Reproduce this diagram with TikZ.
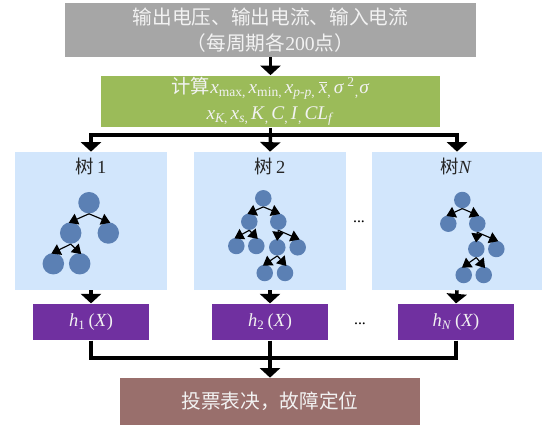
\documentclass[tikz,border=0pt]{standalone}
\usepackage{fontspec}
\usepackage{xcolor}
\usepackage{tikz}
\usetikzlibrary{arrows.meta}
\setmainfont{Liberation Serif}
\newfontfamily\cjk{Noto Sans CJK SC}
\definecolor{graybox}{HTML}{A6A6A6}
\definecolor{greenbox}{HTML}{9BBB59}
\definecolor{treebox}{HTML}{D2E6FC}
\definecolor{purplebox}{HTML}{7030A0}
\definecolor{brownbox}{HTML}{996F6C}
\definecolor{treenode}{HTML}{5B80B4}
\definecolor{pale}{HTML}{F2F2F2}
\newcommand{\vr}[1]{\textit{#1}}
\tikzset{
  box/.style={draw=none, inner sep=0pt, align=center, text=pale},
  inbox/.style={box, fill=graybox, minimum width=8.22cm, minimum height=1.08cm, font=\fontsize{11.2}{14.7}\selectfont},
  calcbox/.style={box, fill=greenbox, minimum width=6.78cm, minimum height=1.04cm, font=\fontsize{11}{15}\selectfont},
  treearea/.style={box, fill=treebox, minimum height=2.76cm},
  hbox/.style={box, fill=purplebox, minimum width=2.31cm, minimum height=0.73cm, font=\fontsize{10.5}{12}\selectfont},
  votebox/.style={box, fill=brownbox, minimum width=6cm, minimum height=0.94cm, font=\fontsize{11.2}{14}\selectfont},
  flow/.style={draw=black, line width=2pt, -{Triangle[length=0.19cm, width=0.4cm]}},
  bus/.style={draw=black, line width=2pt},
  bignode/.style={circle, fill=treenode, inner sep=0pt, minimum size=0.43cm},
  smallnode/.style={circle, fill=treenode, inner sep=0pt, minimum size=0.33cm},
  edge/.style={draw=black, line width=0.65pt, shorten >=-1.2pt, -{Triangle[length=0.18cm, width=0.23cm]}},
  treelbl/.style={text=black!85, font=\fontsize{10.5}{12}\selectfont},
  dots/.style={text=black, font=\fontsize{9}{11}\selectfont}
}

\begin{document}
\begin{tikzpicture}[x=0.02cm, y=-0.02cm]
  \useasboundingbox (0,0) rectangle (543,425);

  \node[inbox] (input) at (270.5,30) {{\cjk 输出电压、输出电流、输入电流}\\{\cjk （每周期各}200{\cjk 点）}};
  \node[calcbox] (calc) at (270.5,101.5) {{\cjk 计算}\vr{x}\textsubscript{max,\,}\vr{x}\textsubscript{min,\,}\vr{x}\textsubscript{\vr{p-p},}\,$\overline{\mbox{\vr{x}}}$\textsubscript{,\,}\vr{σ}\,\textsuperscript{2}\textsubscript{,}\vr{σ}\\\vr{x}\textsubscript{\vr{K},\,}\vr{x}\textsubscript{\vr{s},\,}\vr{K}\textsubscript{,\,}\vr{C}\textsubscript{,\,}\vr{I}\textsubscript{,\,}\vr{CL}\textsubscript{\vr{f}}};

  \node[treearea, minimum width=3.04cm] (tree1) at (91,221) {};
  \node[treearea, minimum width=3.04cm] (tree2) at (270,221) {};
  \node[treearea, minimum width=3.4cm] (treeN) at (457,221) {};

  \node[treelbl] (lbl1) at (91,166) {{\cjk 树}\,1};
  \node[treelbl] (lbl2) at (270,166) {{\cjk 树}\,2};
  \node[treelbl] (lblN) at (456,166) {{\cjk 树}\vr{N}};

  \node[bignode] (a) at (89,202.7) {};
  \node[bignode] (al) at (70.7,233) {};
  \node[bignode] (ar) at (108.3,233) {};
  \node[bignode] (all) at (53.3,263.7) {};
  \node[bignode] (alr) at (79.7,263.7) {};

  \node[smallnode] (b) at (263.3,198.3) {};
  \node[smallnode] (bl) at (249.3,221.7) {};
  \node[smallnode] (br) at (278.3,221.7) {};
  \node[smallnode] (bll) at (236.3,246) {};
  \node[smallnode] (blr) at (256.3,246) {};
  \node[smallnode] (brl) at (277.3,247.3) {};
  \node[smallnode] (brr) at (297.7,247.3) {};
  \node[smallnode] (brll) at (264.7,273) {};
  \node[smallnode] (brlr) at (285,273) {};

  \node[smallnode] (c) at (462.3,200) {};
  \node[smallnode] (cl) at (448.3,223.7) {};
  \node[smallnode] (cr) at (477.3,223.7) {};
  \node[smallnode] (crl) at (476.3,249) {};
  \node[smallnode] (crr) at (496.3,249) {};
  \node[smallnode] (crll) at (463.7,275) {};
  \node[smallnode] (crlr) at (483.7,275) {};

  \draw[edge] (a.south) -- (al.north);
  \draw[edge] (a.south) -- (ar.north);
  \draw[edge] (al.south) -- (all.north);
  \draw[edge] (al.south) -- (alr.north);

  \draw[edge] (b.south) -- (bl.north);
  \draw[edge] (b.south) -- (br.north);
  \draw[edge] (bl.south) -- (bll.north);
  \draw[edge] (bl.south) -- (blr.north);
  \draw[edge] (br.south) -- (brl.north);
  \draw[edge] (br.south) -- (brr.north);
  \draw[edge] (brl.south) -- (brll.north);
  \draw[edge] (brl.south) -- (brlr.north);

  \draw[edge] (c.south) -- (cl.north);
  \draw[edge] (c.south) -- (cr.north);
  \draw[edge] (cr.south) -- (crl.north);
  \draw[edge] (cr.south) -- (crr.north);
  \draw[edge] (crl.south) -- (crll.north);
  \draw[edge] (crl.south) -- (crlr.north);

  \node[dots] (dots1) at (359,222) {...};
  \node[dots] (dots2) at (360,324) {...};

  \node[hbox] (h1) at (91,322) {\vr{h}\textsubscript{1}\,(\vr{X})};
  \node[hbox] (h2) at (270,322) {\vr{h}\textsubscript{2}\,(\vr{X})};
  \node[hbox] (hN) at (456,322) {\vr{h}\textsubscript{\vr{N}}\,(\vr{X})};

  \node[votebox] (vote) at (270,401.5) {{\cjk 投票表决，故障定位}};

  \coordinate (split) at (270.5,135);
  \coordinate (merge) at (270,358);

  \draw[flow] (input) -- (calc);
  \draw[bus] (calc.south) -- (split);
  \draw[flow] (split) -| (tree1.north);
  \draw[flow] (split) -- (tree2.north);
  \draw[flow] (split) -| (treeN.north);

  \draw[flow] (tree1.south) -- (h1.north);
  \draw[flow] (tree2.south) -- (h2.north);
  \draw[flow] (treeN.south) -- (hN.north);

  \draw[bus] (h1.south) |- (merge);
  \draw[bus] (hN.south) |- (merge);
  \draw[flow] (h2.south) -- (vote.north);
\end{tikzpicture}
\end{document}
